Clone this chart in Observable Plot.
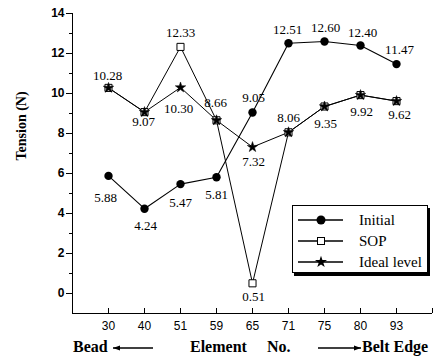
<!DOCTYPE html>
<html>
<head>
<meta charset="utf-8">
<script src="https://cdn.jsdelivr.net/npm/d3@7"></script>
<script src="https://cdn.jsdelivr.net/npm/@observablehq/plot@0.6"></script>
<style>
  body { margin: 0; background: #fff; }
  #wrap { position: relative; width: 433px; height: 362px; overflow: hidden; }
  #wrap svg { display: block; }
  g[aria-label="y-axis tick label"] text { font-weight: bold; }
  .legend { position: absolute; left: 292px; top: 205px; width: 134px; height: 66px;
    border: 1px solid #000; background: #fff; box-shadow: 2px 3px 0 #000;
    font-family: "Liberation Serif", "Times New Roman", serif; font-size: 15px; color: #000; }
  .legend .row { position: absolute; left: 0; height: 20px; display: flex; align-items: center; }
  .legend .row svg { width: 52px; height: 20px; }
  .legend .row span { position: absolute; left: 66px; white-space: nowrap; }
  .xtitle { position: absolute; top: 338px; font-family: "Liberation Serif", "Times New Roman", serif;
    font-weight: bold; font-size: 16px; color: #000; white-space: nowrap; line-height: 18px; }
  .arrow { position: absolute; top: 338px; }
</style>
</head>
<body>
<div id="wrap"></div>
<script>
// ---- data ----
const elements = ["30", "40", "51", "59", "65", "71", "75", "80", "93"];
const initial  = [5.88, 4.24, 5.47, 5.81, 9.05, 12.51, 12.60, 12.40, 11.47];
const sop      = [10.28, 9.07, 12.33, 8.66, 0.51, 8.06, 9.35, 9.92, 9.62];
const ideal    = [10.28, 9.07, 10.30, 8.66, 7.32, 8.06, 9.35, 9.92, 9.62];
const yTicks = [0, 2, 4, 6, 8, 10, 12, 14];
const yMinorTicks = [1, 3, 5, 7, 9, 11, 13];
const seriesNames = ["Initial", "SOP", "Ideal level"];
const yTitle = "Tension (N)";

// which points carry a value label (index into elements)
const initialLabelled = [0, 1, 2, 3, 4, 5, 6, 7, 8];
const sopLabelled = [0, 1, 2, 3, 4, 5, 6, 7, 8];
const idealLabelled = [2, 4];

// ---- label placement (pixel offsets, presentation only) ----
const initialOffsets = [[-3, 22], [1, 17], [0, 19], [0, 18], [1, -15], [-1, -13], [1, -14], [2, -13], [3, -14]];
const sopOffsets = [[-1, -12], [-1, 10], [0, -14], [-1, -17], [1, 14], [0, -14], [1, 17], [1, 17], [3, 14]];
const idealOffsets = { 2: [-2, 21], 4: [1, 15] };

const idx = d3.range(elements.length);
const serif = "'Liberation Serif', 'Times New Roman', serif";

function labelMarks(values, which, offsets) {
  return which.map((i, k) => {
    const [dx, dy] = Array.isArray(offsets) ? offsets[k] : offsets[i];
    return Plot.text([i], {
      x: (d) => d, y: (d) => values[d], text: (d) => values[d].toFixed(2),
      dx, dy, fontFamily: serif, fontSize: 13, fill: "black", lineAnchor: "middle"
    });
  });
}

const chart = Plot.plot({
  width: 433,
  height: 336,
  marginLeft: 72,
  marginRight: 1,
  marginTop: 13,
  marginBottom: 23,
  style: { fontFamily: "'Liberation Sans', Arial, sans-serif", fontSize: "12px", color: "black", background: "white" },
  x: { type: "linear", domain: [-1, elements.length], axis: null },
  y: { domain: [-1, 14], axis: null },
  marks: [
    Plot.ruleX([-1], { stroke: "black" }),
    Plot.ruleY([-1], { stroke: "black" }),
    Plot.axisY(yTicks, { anchor: "left", tickSize: 6, tickPadding: 2, label: null, fontSize: 12 }),
    Plot.axisY(yMinorTicks, { anchor: "left", tickSize: 3, text: null, label: null }),
    Plot.axisX(idx, { anchor: "bottom", tickSize: -5, tickPadding: 13, label: null,
      tickFormat: (i) => elements[i], fontSize: 12 }),
    Plot.axisX([elements.length], { anchor: "bottom", tickSize: -5, text: null, label: null }),
    Plot.text([yTitle], { frameAnchor: "left", rotate: -90, dx: -51, dy: -3, fontFamily: serif,
      fontWeight: "bold", fontSize: 14, fill: "black" }),
    Plot.line(idx, { x: (d) => d, y: (d) => sop[d], stroke: "black", strokeWidth: 1 }),
    Plot.line(idx, { x: (d) => d, y: (d) => ideal[d], stroke: "black", strokeWidth: 1 }),
    Plot.line(idx, { x: (d) => d, y: (d) => initial[d], stroke: "black", strokeWidth: 1.1 }),
    Plot.dot(idx, { x: (d) => d, y: (d) => sop[d], symbol: "square", r: 4, fill: "white", stroke: "black", strokeWidth: 1 }),
    Plot.dot(idx, { x: (d) => d, y: (d) => ideal[d], symbol: "star", r: 3.3, fill: "black", stroke: "black", strokeWidth: 0.5 }),
    Plot.dot(idx, { x: (d) => d, y: (d) => initial[d], symbol: "circle", r: 4.2, fill: "black" }),
    ...labelMarks(initial, initialLabelled, initialOffsets),
    ...labelMarks(sop, sopLabelled, sopOffsets),
    ...labelMarks(ideal, idealLabelled, idealOffsets)
  ]
});

const wrap = document.getElementById("wrap");
wrap.appendChild(chart);

// legend
const legend = document.createElement("div");
legend.className = "legend";
const symbols = [
  '<circle cx="28" cy="10" r="4.5" fill="black"/>',
  '<rect x="24.5" y="6.5" width="7" height="7" fill="white" stroke="black"/>',
  '<path d="' + d3.symbol(d3.symbolStar, 45)() + '" transform="translate(28,10)" fill="black"/>'
];
seriesNames.forEach((name, k) => {
  const row = document.createElement("div");
  row.className = "row";
  row.style.top = (4 + k * 21) + "px";
  row.style.width = "134px";
  row.innerHTML = '<svg viewBox="0 0 52 20"><line x1="5" x2="50" y1="10" y2="10" stroke="black" stroke-width="1.3"/>' +
    symbols[k] + '</svg><span>' + name + '</span>';
  legend.appendChild(row);
});
wrap.appendChild(legend);

// x-axis title: Bead <—— Element No. ——> Belt Edge
function addText(txt, left) {
  const s = document.createElement("div");
  s.className = "xtitle";
  s.style.left = left + "px";
  s.textContent = txt;
  wrap.appendChild(s);
}
function addArrow(left, width, dir) {
  const ns = "http://www.w3.org/2000/svg";
  const a = document.createElementNS(ns, "svg");
  a.setAttribute("class", "arrow");
  a.setAttribute("width", width);
  a.setAttribute("height", 18);
  a.style.left = left + "px";
  const y = 10;
  const head = dir < 0
    ? `M0,${y} L7,${y - 2.5} L7,${y + 2.5} Z`
    : `M${width},${y} L${width - 7},${y - 2.5} L${width - 7},${y + 2.5} Z`;
  a.innerHTML = `<line x1="0" x2="${width}" y1="${y}" y2="${y}" stroke="black" stroke-width="1.5"/><path d="${head}" fill="black"/>`;
  wrap.appendChild(a);
}
addText("Bead", 73);
addArrow(113, 40, -1);
addText("Element", 190);
addText("No.", 267);
addArrow(318, 43, 1);
addText("Belt Edge", 362);
</script>
</body>
</html>
